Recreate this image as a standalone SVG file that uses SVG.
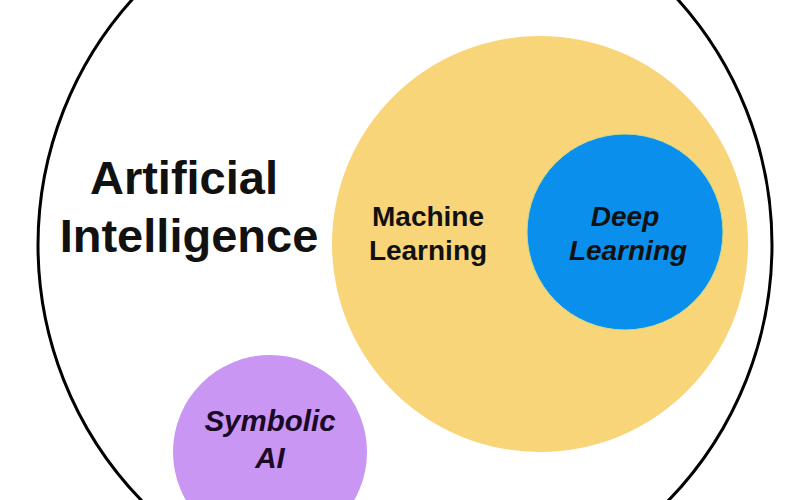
<svg xmlns="http://www.w3.org/2000/svg" width="800" height="500" viewBox="0 0 800 500">
  <style>
    .lbl { font-family: "Liberation Sans", Arial, sans-serif; font-weight: bold; text-anchor: middle; fill: #111111; }
    .it { font-style: italic; }
    .big { font-size: 47px; }
    .mid { font-size: 28px; }
    .sym { font-size: 29.5px; fill: #1A0A26; }
  </style>
  <rect width="800" height="500" fill="#ffffff"/>
  <g id="artificial-intelligence">
    <circle cx="405" cy="245" r="367" fill="#ffffff" stroke="#000000" stroke-width="3"/>
    <text class="lbl big" x="184" y="194">Artificial</text>
    <text class="lbl big" x="189" y="252">Intelligence</text>
  </g>
  <g id="machine-learning">
    <circle cx="540" cy="244" r="208" fill="#F9D57A"/>
    <text class="lbl mid" x="428" y="226">Machine</text>
    <text class="lbl mid" x="428" y="260">Learning</text>
  </g>
  <g id="deep-learning">
    <circle cx="625" cy="232" r="98" fill="#0A90EC" stroke="#C9DA8E" stroke-width="1"/>
    <text class="lbl mid it" x="625" y="226">Deep</text>
    <text class="lbl mid it" x="628" y="260">Learning</text>
  </g>
  <g id="symbolic-ai">
    <circle cx="270" cy="452" r="97" fill="#C996F3"/>
    <text class="lbl it sym" x="270" y="431">Symbolic</text>
    <text class="lbl it sym" x="270" y="468">AI</text>
  </g>
  <g id="connectors"/>
</svg>
